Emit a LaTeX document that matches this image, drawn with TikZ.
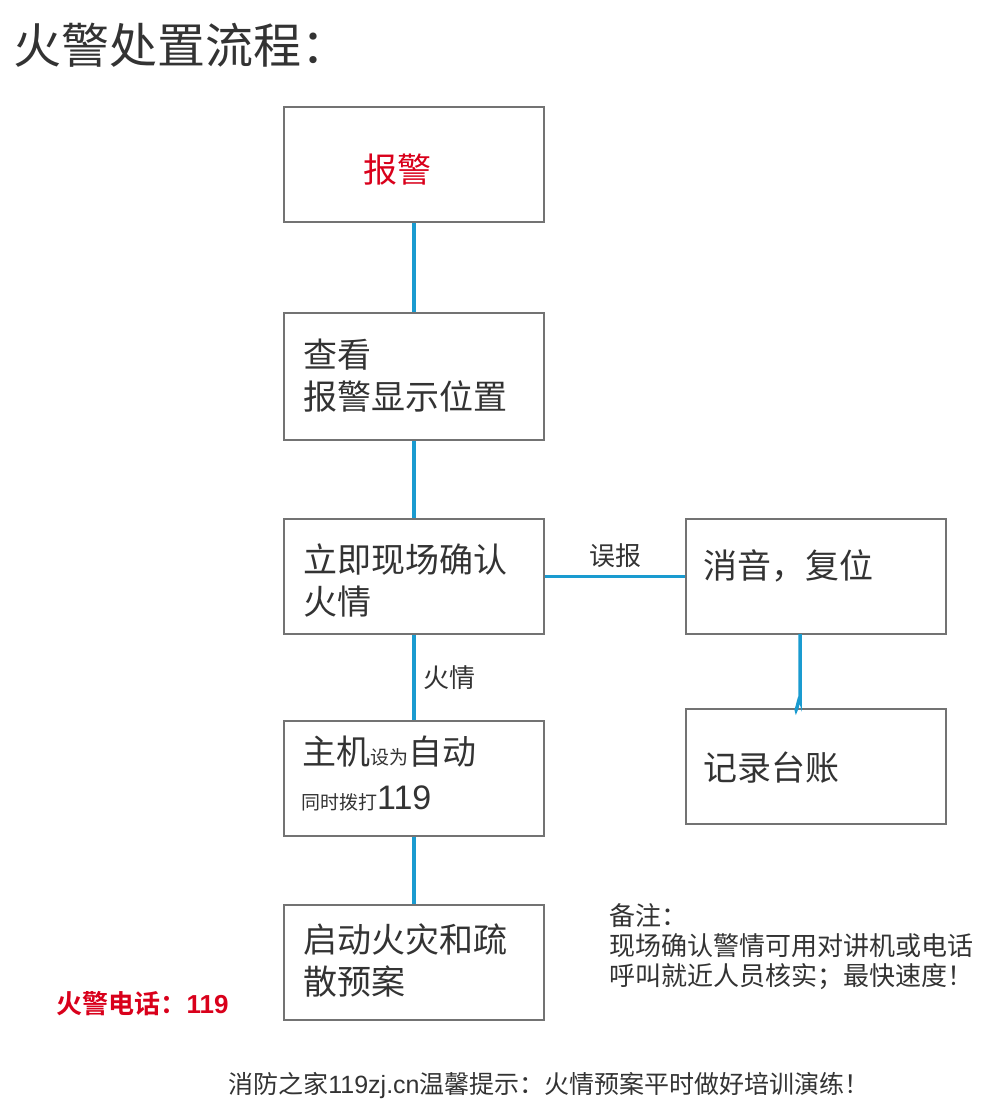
\documentclass[tikz,border=0pt]{standalone}
\usepackage{fontspec}
\setmainfont{Noto Sans CJK SC}
\newfontfamily\cjkb{Noto Sans CJK SC}[BoldFont={Noto Sans CJK SC Bold}]
\newfontfamily\lat{Liberation Sans}
\definecolor{txt}{HTML}{333333}
\definecolor{lnk}{HTML}{1A9BD0}
\definecolor{alarm}{HTML}{D9001B}
\tikzset{
 box/.style={draw=black!55,line width=1.6pt,minimum width=260pt,inner sep=0pt},
 conn/.style={lnk,line width=3.5pt},
 big/.style={font=\fontsize{34}{42}\selectfont,text=txt,align=left,anchor=west},
 mid/.style={font=\fontsize{26}{30}\selectfont,text=txt,align=left,anchor=west},
}
\begin{document}
\begin{tikzpicture}[x=1pt,y=-1pt]
\useasboundingbox (0,0) rectangle (989,1113);
\node[font=\fontsize{48}{54}\selectfont,text=txt,anchor=west] (title) at (10,45) {火警处置流程：};
\node[box,minimum height=115pt] (b1) at (414,164.5) {};
\node[box,minimum height=127pt] (b2) at (414,376.5) {};
\node[box,minimum height=115pt] (b3) at (414,576.5) {};
\node[box,minimum height=115pt] (b4) at (414,778.5) {};
\node[box,minimum height=115pt] (b5) at (414,962.5) {};
\node[box,minimum height=115pt] (b6) at (816,576.5) {};
\node[box,minimum height=115pt] (b7) at (816,766.5) {};
\node[font=\fontsize{34}{42}\selectfont,text=alarm] (t1) at (397,170) {报警};
\node[big] (t2) at (300,376) {查看\\报警显示位置};
\node[big] (t3) at (300,580) {立即现场确认\\火情};
\node[big] (t4a) at (299,752) {主机{\fontsize{19}{22}\selectfont 设为}自动};
\node[text=txt,anchor=west,inner sep=0pt] (t4b) at (301,798) {\fontsize{19}{22}\selectfont 同时拨打{\lat\fontsize{34}{40}\selectfont 119}};
\node[big] (t5) at (300,960) {启动火灾和疏\\散预案};
\node[big] (t6) at (700,566) {消音，复位};
\node[big] (t7) at (700,768) {记录台账};
\draw[conn] (b1.south) -- (b2.north);
\draw[conn] (b2.south) -- (b3.north);
\draw[conn] (b3.south) -- node[mid,anchor=west,xshift=4pt] (l1) {火情} (b4.north);
\draw[conn] (b4.south) -- (b5.north);
\draw[conn] (b3.east) -- node[mid,anchor=south,yshift=4pt] (l2) {误报} (b6.west);
\coordinate (c1) at (800,634);
\coordinate (c2) at (796,709);
\draw[conn] (c1) -- (800,698) to[out=90,in=-90] (c2);
\node[mid,align=left,font=\fontsize{26}{30}\selectfont,anchor=north west] (note) at (606,900) {备注：\\现场确认警情可用对讲机或电话\\呼叫就近人员核实；最快速度！};
\node[anchor=west,text=alarm,font=\cjkb\bfseries\fontsize{26}{30}\selectfont] (tel) at (53,1004) {火警电话：{\lat\bfseries 119}};
\node[text=txt,font=\fontsize{25}{30}\selectfont] (foot) at (549,1085) {消防之家{\lat 119zj.cn}温馨提示：火情预案平时做好培训演练！};
\end{tikzpicture}
\end{document}
